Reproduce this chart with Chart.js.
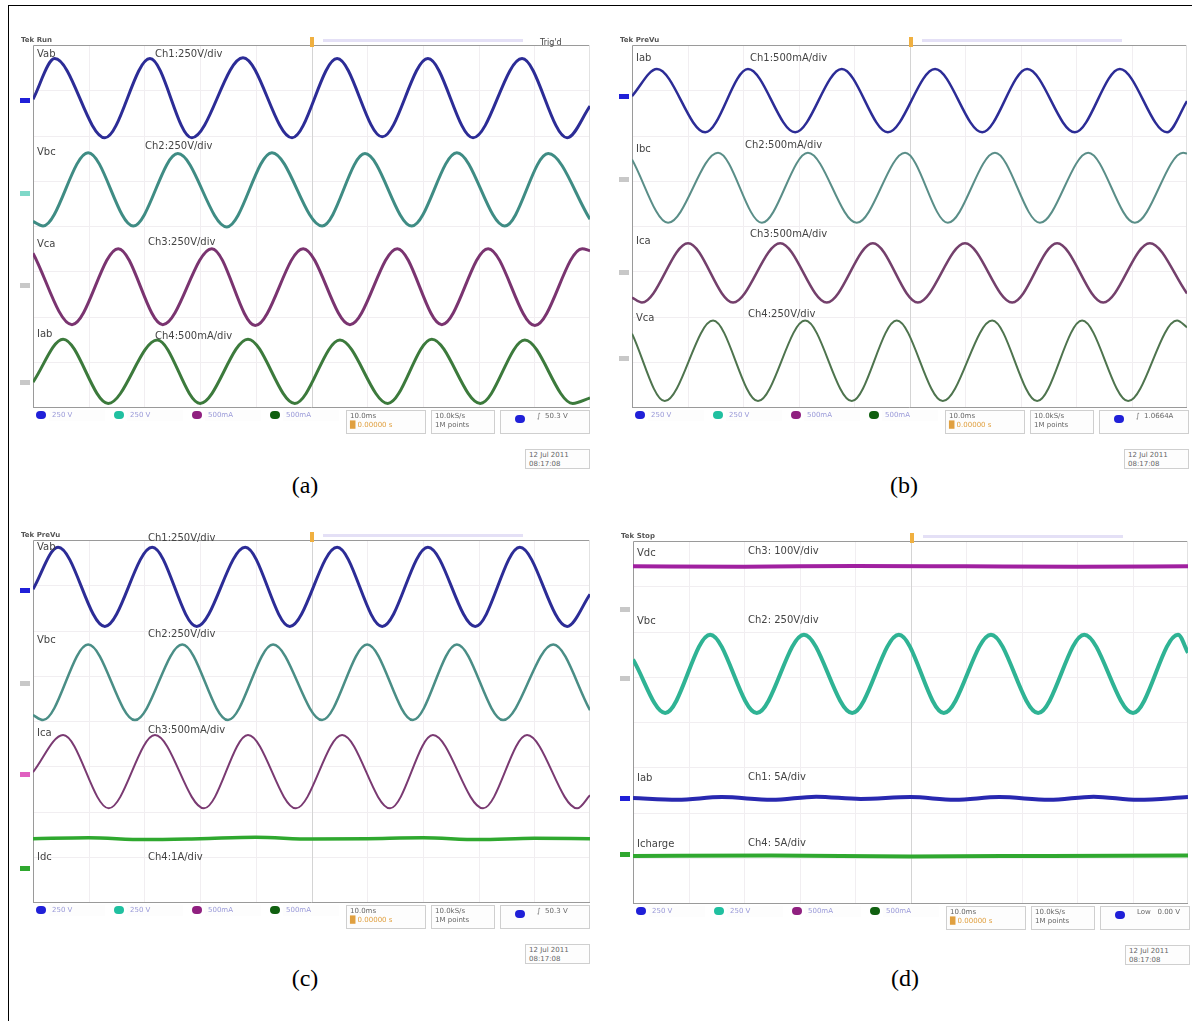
<!DOCTYPE html>
<html>
<head>
<meta charset="utf-8">
<script src="https://cdn.jsdelivr.net/npm/chart.js@4.4.0/dist/chart.umd.min.js"></script>
<style>
body{margin:0;background:#fff;}
#fig{position:relative;width:1192px;height:1021px;overflow:hidden;}
#frame{position:absolute;left:8px;top:5px;width:1200px;height:1030px;border-left:1px solid #000;border-top:1px solid #000;}
canvas{position:absolute;}
.lbl{position:absolute;font:10px "DejaVu Sans",sans-serif;color:#444;white-space:nowrap;line-height:11px;}
.tek{position:absolute;font:bold 7px "DejaVu Sans",sans-serif;color:#555;white-space:nowrap;}
.cap{position:absolute;font:24px "Liberation Serif",serif;color:#000;width:60px;text-align:center;}
.box{position:absolute;border:1px solid #cfcfcf;background:#fdfdfd;font:7px "DejaVu Sans",sans-serif;color:#666;line-height:9px;padding:1px 3px;box-sizing:border-box;white-space:nowrap;}
.dot{position:absolute;width:10px;height:8px;border-radius:5px;}
.tab{position:absolute;width:10px;height:5px;}
</style>
</head>
<body>
<div id="fig">
  <div id="frame"></div>
</div>
<script>
// time axis: 0..100 ms (10 ms/div), vertical axis in divisions (-4..4)
// values: extremes of every trace

// ---- (a) ----
const aVabT = [0, 3.9, 12.9, 21.0, 28.5, 37.7, 46.5, 54.6, 62.7, 70.9, 79.0, 87.8, 95.9, 100];
const aVabV = [2.8, 3.7, 1.95, 3.7, 1.95, 3.72, 1.95, 3.7, 1.97, 3.7, 1.95, 3.7, 1.95, 2.65];
const aVbcT = [0, 1.8, 9.9, 18.0, 26.0, 34.8, 42.9, 51.9, 59.6, 68.0, 76.1, 84.7, 92.5, 100];
const aVbcV = [0.1, 0.0, 1.62, 0.0, 1.6, -0.02, 1.62, 0.0, 1.6, 0.0, 1.62, 0.0, 1.6, 0.15];
const aVcaT = [0, 7.0, 15.3, 23.3, 32.1, 39.9, 48.5, 56.9, 65.4, 73.4, 81.7, 90.1, 98.6, 100];
const aVcaV = [-0.6, -2.18, -0.5, -2.18, -0.5, -2.2, -0.5, -2.18, -0.5, -2.18, -0.5, -2.2, -0.5, -0.55];
const aIabT = [0, 5.4, 13.5, 22.3, 30.0, 38.6, 47.0, 55.1, 63.7, 71.6, 80.3, 88.3, 96.9, 100];
const aIabV = [-3.45, -2.5, -3.92, -2.52, -3.92, -2.5, -3.92, -2.52, -3.92, -2.5, -3.92, -2.52, -3.92, -3.8];

// ---- (b) ----
const bIabT = [0, 4.5, 13.2, 20.9, 29.4, 37.8, 46.1, 54.6, 63.1, 71.2, 79.8, 87.9, 96.4, 100];
const bIabV = [2.87, 3.47, 2.07, 3.47, 2.07, 3.47, 2.07, 3.47, 2.07, 3.47, 2.07, 3.47, 2.07, 2.76];
const bIbcT = [0, 6.5, 15.5, 23.4, 31.7, 40.5, 49.2, 56.9, 65.4, 73.5, 82.2, 90.6, 99.3, 100];
const bIbcV = [1.47, 0.07, 1.62, 0.07, 1.62, 0.07, 1.62, 0.07, 1.62, 0.07, 1.62, 0.07, 1.62, 1.6];
const bIcaT = [0, 1.8, 10.1, 18.2, 26.7, 35.1, 43.4, 51.5, 60.0, 68.5, 76.6, 84.9, 93.3, 100];
const bIcaV = [-1.58, -1.69, -0.38, -1.69, -0.38, -1.69, -0.38, -1.69, -0.38, -1.69, -0.38, -1.69, -0.38, -1.49];
const bVcaT = [0, 5.9, 14.6, 22.7, 31.2, 39.6, 47.7, 56.0, 64.9, 73.0, 81.1, 89.4, 98.2, 100];
const bVcaV = [-2.38, -3.87, -2.09, -3.87, -2.09, -3.87, -2.09, -3.87, -2.09, -3.87, -2.09, -3.87, -2.09, -2.24];

// ---- (c) ----
const cVabT = [0, 4.5, 12.9, 21.4, 29.4, 38.1, 46.1, 54.6, 62.7, 70.9, 79.4, 87.4, 95.9, 100];
const cVabV = [2.91, 3.84, 2.09, 3.84, 2.09, 3.84, 2.09, 3.84, 2.09, 3.84, 2.09, 3.84, 2.09, 2.8];
const cVbcT = [0, 1.8, 9.9, 18.3, 26.8, 35.0, 43.1, 51.9, 60.0, 68.2, 76.1, 84.4, 93.4, 100];
const cVbcV = [0.13, 0.02, 1.69, 0.02, 1.69, 0.02, 1.69, 0.02, 1.69, 0.02, 1.69, 0.02, 1.69, 0.24];
const cIcaT = [0, 5.4, 13.6, 21.9, 30.7, 38.6, 47.2, 55.5, 64.1, 71.8, 80.8, 88.7, 97.7, 100];
const cIcaV = [-1.13, -0.31, -1.93, -0.31, -1.93, -0.31, -1.93, -0.31, -1.93, -0.31, -1.93, -0.31, -1.93, -1.64];
const cIdcT = [0, 10, 20, 30, 40, 50, 60, 70, 80, 90, 100];
const cIdcV = [-2.6, -2.58, -2.62, -2.6, -2.57, -2.61, -2.6, -2.58, -2.62, -2.59, -2.6];

// ---- (d) ----
const dVdcT = [0, 20, 40, 60, 80, 100];
const dVdcV = [3.44, 3.43, 3.45, 3.44, 3.43, 3.44];
const dVbcT = [0, 5.8, 13.9, 22.3, 30.8, 39.5, 47.9, 56.0, 64.5, 73.0, 81.3, 90.1, 98.2, 100];
const dVbcV = [1.38, 0.2, 1.93, 0.2, 1.93, 0.2, 1.93, 0.2, 1.93, 0.2, 1.93, 0.2, 1.93, 1.53];
const dIabT = [0, 8, 16, 25, 33, 41, 50, 58, 66, 75, 83, 91, 100];
const dIabV = [-1.68, -1.72, -1.66, -1.72, -1.65, -1.7, -1.66, -1.72, -1.66, -1.72, -1.65, -1.72, -1.66];
const dIchT = [0, 25, 50, 75, 100];
const dIchV = [-2.96, -2.95, -2.97, -2.96, -2.95];

// channel names and scale texts
const aNames = ['Vab', 'Vbc', 'Vca', 'Iab'];
const aScales = ['Ch1:250V/div', 'Ch2:250V/div', 'Ch3:250V/div', 'Ch4:500mA/div'];
const bNames = ['Iab', 'Ibc', 'Ica', 'Vca'];
const bScales = ['Ch1:500mA/div', 'Ch2:500mA/div', 'Ch3:500mA/div', 'Ch4:250V/div'];
const cNames = ['Vab', 'Vbc', 'Ica', 'Idc'];
const cScales = ['Ch1:250V/div', 'Ch2:250V/div', 'Ch3:500mA/div', 'Ch4:1A/div'];
const dNames = ['Vdc', 'Vbc', 'Iab', 'Icharge'];
const dScales = ['Ch3: 100V/div', 'Ch2: 250V/div', 'Ch1: 5A/div', 'Ch4: 5A/div'];
const captions = ['(a)', '(b)', '(c)', '(d)'];

const fig = document.getElementById('fig');

function addEl(cls, x, y, text, style) {
    const el = document.createElement('div');
    el.className = cls;
    el.style.left = x + 'px';
    el.style.top = y + 'px';
    if (text) el.innerHTML = text;
    if (style) Object.assign(el.style, style);
    fig.appendChild(el);
    return el;
}

/**
 * faint graticule, centre cross and frame of the scope screen
 */
const screenGrid = {
    id: 'screenGrid',
    beforeDatasetsDraw(chart) {
        const {ctx, chartArea: a, scales: {x, y}} = chart;
        ctx.save();
        ctx.lineWidth = 1;
        ctx.strokeStyle = '#f1eef1';
        for (let i = 1; i < 10; i++) {
            const px = Math.round(x.getPixelForValue(i * 10)) + 0.5;
            ctx.beginPath(); ctx.moveTo(px, a.top); ctx.lineTo(px, a.bottom); ctx.stroke();
        }
        for (let j = -3; j <= 3; j++) {
            const py = Math.round(y.getPixelForValue(j)) + 0.5;
            ctx.beginPath(); ctx.moveTo(a.left, py); ctx.lineTo(a.right, py); ctx.stroke();
        }
        // centre vertical line
        ctx.strokeStyle = '#d4d4d4';
        const cx = Math.round(x.getPixelForValue(50)) + 0.5;
        ctx.beginPath(); ctx.moveTo(cx, a.top); ctx.lineTo(cx, a.bottom); ctx.stroke();
        // frame
        ctx.strokeStyle = '#9a9a9a';
        ctx.beginPath();
        ctx.moveTo(a.left + 0.5, a.bottom); ctx.lineTo(a.left + 0.5, a.top + 0.5);
        ctx.lineTo(a.right, a.top + 0.5);
        ctx.moveTo(a.left, a.bottom + 0.5); ctx.lineTo(a.right, a.bottom + 0.5);
        ctx.stroke();
        ctx.strokeStyle = '#e2e2e2';
        ctx.beginPath(); ctx.moveTo(a.right - 0.5, a.top); ctx.lineTo(a.right - 0.5, a.bottom); ctx.stroke();
        ctx.restore();
    }
};

function trace(t, v, color, w) {
    return {
        data: t.map((tt, i) => ({x: tt, y: v[i]})),
        borderColor: color,
        borderWidth: w,
        pointRadius: 0,
        fill: false,
        cubicInterpolationMode: 'monotone'
    };
}

// p = plot rectangle on the page {l,t,r,b}
function scope(p, traces) {
    const cv = document.createElement('canvas');
    const ox = p.l - 14, oy = p.t - 10;
    cv.width = p.r - ox + 6;
    cv.height = p.b - oy + 8;
    cv.style.left = ox + 'px';
    cv.style.top = oy + 'px';
    fig.appendChild(cv);
    new Chart(cv.getContext('2d'), {
        type: 'line',
        data: {datasets: traces},
        options: {
            responsive: false,
            animation: false,
            layout: {padding: {left: 14, top: 10, right: 6, bottom: 8}},
            plugins: {legend: {display: false}, tooltip: {enabled: false}},
            scales: {
                x: {type: 'linear', min: 0, max: 100, display: false},
                y: {type: 'linear', min: -4, max: 4, display: false}
            }
        },
        plugins: [screenGrid]
    });
}

// texts, status bar and small decorations around one screen
function decorate(p, tek, names, scales, nameY, scaleY, scaleX, dots, extra, caption, capY) {
    addEl('tek', p.l - 12, p.t - 9, tek);
    // record bar and trigger marker
    addEl('tab', p.l + 290, p.t - 6, '', {width: '200px', height: '3px', background: '#e4e0f6'});
    addEl('tab', p.l + 277, p.t - 8, '', {width: '4px', height: '10px', background: '#f0b040'});
    for (let i = 0; i < names.length; i++) {
        addEl('lbl', p.l + 4, nameY[i], names[i]);
        addEl('lbl', scaleX[i], scaleY[i], scales[i]);
    }
    // status bar
    const B = p.b + 3;
    const cols = ['#2020d8', '#20c0a0', '#902080', '#106010'];
    const txt = ['250 V', '250 V', '500mA', '500mA'];
    for (let i = 0; i < 4; i++) {
        addEl('dot', p.l + 3 + i * 78, B + 1, '', {background: cols[i]});
        addEl('box', p.l + 16 + i * 78, B, txt[i], {width: '56px', height: '11px', border: 'none', color: '#9a9ad8'});
    }
    addEl('box', p.l + 313, B, '10.0ms<br><span style="color:#e0a040">&#9608; 0.00000 s</span>', {width: '80px', height: '24px'});
    addEl('box', p.l + 398, B, '10.0kS/s<br>1M points', {width: '64px', height: '24px'});
    addEl('box', p.l + 467, B, extra, {width: '90px', height: '24px', paddingLeft: '36px'});
    addEl('dot', p.l + 482, B + 5, '', {background: '#2020d8'});
    addEl('box', p.l + 492, p.b + 42, '12 Jul 2011<br>08:17:08', {width: '65px', height: '20px'});
    // ground level tabs at the left edge
    for (const d of dots) addEl('tab', p.l - 13, d[0], '', {background: d[1]});
    addEl('cap', p.l + 242, capY, caption);
}

// ---- panel (a) ----
const pa = {l: 33, t: 45, r: 590, b: 407};
scope(pa, [
    trace(aVabT, aVabV, '#2c2c96', 3),
    trace(aVbcT, aVbcV, '#3f8c84', 3),
    trace(aVcaT, aVcaV, '#7a3470', 3),
    trace(aIabT, aIabV, '#3c7a3c', 3)
]);
decorate(pa, 'Tek Run', aNames, aScales, [48, 146, 238, 328], [48, 140, 236, 330], [155, 145, 148, 155],
    [[98, '#2020d8'], [191, '#7fd8c8'], [283, '#c8c8c8'], [380, '#c8c8c8']], '&#8747; &nbsp;50.3 V', captions[0], 472);
addEl('lbl', 540, 37, 'Trig\'d', {fontSize: '8px'});

// ---- panel (b) ----
const pb = {l: 632, t: 45, r: 1187, b: 407};
scope(pb, [
    trace(bIabT, bIabV, '#2c2c96', 2.5),
    trace(bIbcT, bIbcV, '#5a8e88', 2),
    trace(bIcaT, bIcaV, '#74406c', 2.5),
    trace(bVcaT, bVcaV, '#4e744e', 2)
]);
decorate(pb, 'Tek PreVu', bNames, bScales, [52, 143, 235, 312], [52, 139, 228, 308], [750, 745, 750, 748],
    [[94, '#2020d8'], [177, '#c8c8c8'], [270, '#c8c8c8'], [356, '#c8c8c8']], '&#8747; &nbsp;1.0664A', captions[1], 472);

// ---- panel (c) ----
const pc = {l: 33, t: 540, r: 590, b: 902};
scope(pc, [
    trace(cVabT, cVabV, '#2c2c96', 3),
    trace(cVbcT, cVbcV, '#4a8e86', 2.5),
    trace(cIcaT, cIcaV, '#7a3a72', 2),
    trace(cIdcT, cIdcV, '#2fa82f', 3.5)
]);
decorate(pc, 'Tek PreVu', cNames, cScales, [541, 634, 727, 851], [532, 628, 724, 851], [148, 148, 148, 148],
    [[588, '#2020d8'], [681, '#c8c8c8'], [772, '#e060c0'], [866, '#2fa82f']], '&#8747; &nbsp;50.3 V', captions[2], 965);

// ---- panel (d) ----
const pd = {l: 633, t: 541, r: 1188, b: 903};
scope(pd, [
    trace(dVdcT, dVdcV, '#a020a0', 4),
    trace(dVbcT, dVbcV, '#2fb394', 4),
    trace(dIabT, dIabV, '#2828b0', 4),
    trace(dIchT, dIchV, '#30a830', 4)
]);
decorate(pd, 'Tek Stop', dNames, dScales, [547, 615, 772, 838], [545, 614, 771, 837], [748, 748, 748, 748],
    [[607, '#c8c8c8'], [676, '#c8c8c8'], [796, '#2020d8'], [852, '#2fa82f']], 'Low &nbsp;&nbsp;0.00 V', captions[3], 965);
</script>
</body>
</html>
